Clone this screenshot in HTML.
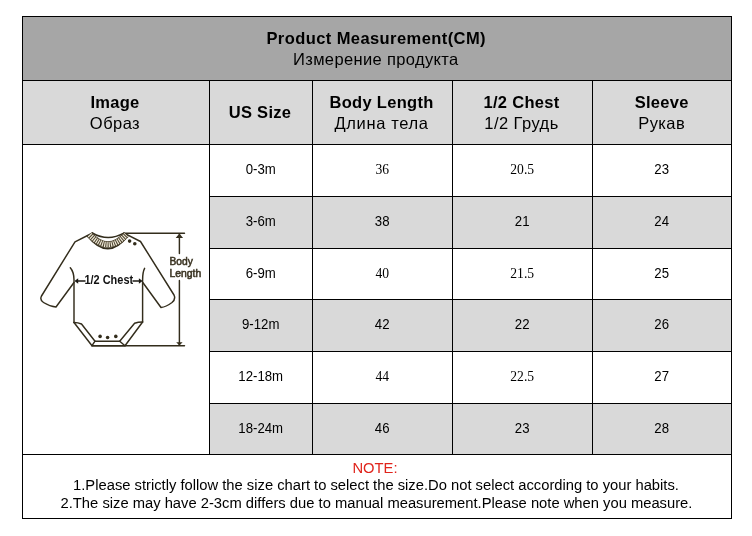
<!DOCTYPE html>
<html><head><meta charset="utf-8"><title>Product Measurement</title>
<style>
html,body{margin:0;padding:0;background:#fff;}
body{width:752px;height:536px;position:relative;overflow:hidden;font-family:"Liberation Sans",Arial,sans-serif;color:#000;}
.c{position:absolute;box-sizing:border-box;display:flex;flex-direction:column;align-items:center;justify-content:center;text-align:center;white-space:nowrap;}
.c>div{position:relative;}
.l{position:absolute;background:#000;}
.h{font-size:16.5px;line-height:20.8px;}
.h b{font-weight:bold;letter-spacing:0.3px;}
.h i{font-style:normal;letter-spacing:0.45px;}
.d{font-size:13.2px;}
.d>div{transform:scaleY(1.07);}
.s{font-family:"Liberation Serif","Times New Roman",serif;font-size:13.6px;}
.n{font-size:14.75px;line-height:17.9px;}
</style></head><body>
<div class="c h" style="left:22px;top:16px;width:710px;height:64px;background:#a6a6a6;"><div style="left:-0.8px;top:0.6px"><b style="letter-spacing:0.42px">Product Measurement(CM)</b></div><div style="left:-1.2px;top:0.6px"><i style="letter-spacing:0.36px">Измерение продукта</i></div></div>
<div class="c h" style="left:22px;top:80px;width:188px;height:64px;background:#d9d9d9;"><div style="left:-1px;top:0.4px"><b>Image</b></div><div style="left:-1px;top:1px"><i style="letter-spacing:0.45px">Образ</i></div></div>
<div class="c h" style="left:209px;top:80px;width:104px;height:64px;background:#d9d9d9;"><div style="left:-1px;top:0.5px"><b>US Size</b></div></div>
<div class="c h" style="left:312px;top:80px;width:141px;height:64px;background:#d9d9d9;"><div style="left:-1px;top:0.4px"><b>Body Length</b></div><div style="left:-1px;top:1px"><i style="letter-spacing:0.62px">Длина тела</i></div></div>
<div class="c h" style="left:452px;top:80px;width:141px;height:64px;background:#d9d9d9;"><div style="left:-1px;top:0.4px"><b>1/2 Chest</b></div><div style="left:-1px;top:1px"><i style="letter-spacing:0.45px">1/2 Грудь</i></div></div>
<div class="c h" style="left:592px;top:80px;width:140px;height:64px;background:#d9d9d9;"><div style="left:-0.3px;top:0.4px"><b>Sleeve</b></div><div style="left:-0.3px;top:1px"><i style="letter-spacing:0.45px">Рукав</i></div></div>
<div class="c d" style="left:209px;top:144px;width:104px;height:52px;background:#fff;"><div style="left:-0.3px;top:-0.7px">0-3m</div></div>
<div class="c s" style="left:312px;top:144px;width:141px;height:52px;background:#fff;"><div style="left:-0.3px;top:-0.3px">36</div></div>
<div class="c s" style="left:452px;top:144px;width:141px;height:52px;background:#fff;"><div style="left:-0.3px;top:-0.3px">20.5</div></div>
<div class="c d" style="left:592px;top:144px;width:140px;height:52px;background:#fff;"><div style="left:-0.3px;top:-0.7px">23</div></div>
<div class="c d" style="left:209px;top:196px;width:104px;height:52px;background:#d9d9d9;"><div style="left:-0.3px;top:-0.7px">3-6m</div></div>
<div class="c d" style="left:312px;top:196px;width:141px;height:52px;background:#d9d9d9;"><div style="left:-0.3px;top:-0.7px">38</div></div>
<div class="c d" style="left:452px;top:196px;width:141px;height:52px;background:#d9d9d9;"><div style="left:-0.3px;top:-0.7px">21</div></div>
<div class="c d" style="left:592px;top:196px;width:140px;height:52px;background:#d9d9d9;"><div style="left:-0.3px;top:-0.7px">24</div></div>
<div class="c d" style="left:209px;top:248px;width:104px;height:51px;background:#fff;"><div style="left:-0.3px;top:-0.19999999999999996px">6-9m</div></div>
<div class="c s" style="left:312px;top:248px;width:141px;height:51px;background:#fff;"><div style="left:-0.3px;top:0.2px">40</div></div>
<div class="c s" style="left:452px;top:248px;width:141px;height:51px;background:#fff;"><div style="left:-0.3px;top:0.2px">21.5</div></div>
<div class="c d" style="left:592px;top:248px;width:140px;height:51px;background:#fff;"><div style="left:-0.3px;top:-0.19999999999999996px">25</div></div>
<div class="c d" style="left:209px;top:299px;width:104px;height:52px;background:#d9d9d9;"><div style="left:-0.3px;top:-0.7px">9-12m</div></div>
<div class="c d" style="left:312px;top:299px;width:141px;height:52px;background:#d9d9d9;"><div style="left:-0.3px;top:-0.7px">42</div></div>
<div class="c d" style="left:452px;top:299px;width:141px;height:52px;background:#d9d9d9;"><div style="left:-0.3px;top:-0.7px">22</div></div>
<div class="c d" style="left:592px;top:299px;width:140px;height:52px;background:#d9d9d9;"><div style="left:-0.3px;top:-0.7px">26</div></div>
<div class="c d" style="left:209px;top:351px;width:104px;height:52px;background:#fff;"><div style="left:-0.3px;top:-0.7px">12-18m</div></div>
<div class="c s" style="left:312px;top:351px;width:141px;height:52px;background:#fff;"><div style="left:-0.3px;top:-0.3px">44</div></div>
<div class="c s" style="left:452px;top:351px;width:141px;height:52px;background:#fff;"><div style="left:-0.3px;top:-0.3px">22.5</div></div>
<div class="c d" style="left:592px;top:351px;width:140px;height:52px;background:#fff;"><div style="left:-0.3px;top:-0.7px">27</div></div>
<div class="c d" style="left:209px;top:403px;width:104px;height:51px;background:#d9d9d9;"><div style="left:-0.3px;top:-0.19999999999999996px">18-24m</div></div>
<div class="c d" style="left:312px;top:403px;width:141px;height:51px;background:#d9d9d9;"><div style="left:-0.3px;top:-0.19999999999999996px">46</div></div>
<div class="c d" style="left:452px;top:403px;width:141px;height:51px;background:#d9d9d9;"><div style="left:-0.3px;top:-0.19999999999999996px">23</div></div>
<div class="c d" style="left:592px;top:403px;width:140px;height:51px;background:#d9d9d9;"><div style="left:-0.3px;top:-0.19999999999999996px">28</div></div>
<div class="c n" style="left:22px;top:454px;width:710px;height:64px;background:#fff;"><div style="color:#e0241c;left:-2px;top:0.4px">NOTE:</div><div style="left:-1px">1.Please strictly follow the size chart to select the size.Do not select according to your habits.</div><div style="left:-0.5px;top:-0.2px">2.The size may have 2-3cm differs due to manual measurement.Please note when you measure.</div></div>
<div class="l" style="left:22px;top:16px;width:710px;height:1px"></div>
<div class="l" style="left:22px;top:80px;width:710px;height:1px"></div>
<div class="l" style="left:22px;top:144px;width:710px;height:1px"></div>
<div class="l" style="left:209px;top:196px;width:523px;height:1px"></div>
<div class="l" style="left:209px;top:248px;width:523px;height:1px"></div>
<div class="l" style="left:209px;top:299px;width:523px;height:1px"></div>
<div class="l" style="left:209px;top:351px;width:523px;height:1px"></div>
<div class="l" style="left:209px;top:403px;width:523px;height:1px"></div>
<div class="l" style="left:22px;top:454px;width:710px;height:1px"></div>
<div class="l" style="left:22px;top:518px;width:710px;height:1px"></div>
<div class="l" style="left:22px;top:16px;width:1px;height:503px"></div>
<div class="l" style="left:731px;top:16px;width:1px;height:503px"></div>
<div class="l" style="left:209px;top:80px;width:1px;height:375px"></div>
<div class="l" style="left:312px;top:80px;width:1px;height:375px"></div>
<div class="l" style="left:452px;top:80px;width:1px;height:375px"></div>
<div class="l" style="left:592px;top:80px;width:1px;height:375px"></div>
<svg style="position:absolute;left:23px;top:200px" width="186" height="170" viewBox="23 200 186 170">
<g fill="none" stroke="#332d1c" stroke-width="1.45" stroke-linecap="round" stroke-linejoin="round">
<!-- left shoulder + sleeve -->
<path d="M92.5 233 L75 241.8 L41.5 296 Q39.5 300 43.5 302.5 Q50 306.5 56 307 L74 282.5"/>
<path d="M70.3 267.8 Q74 272 74 280 L74 322.5"/>
<!-- right shoulder + sleeve -->
<path d="M124 233.2 L140.5 241.5 L174 295 Q176 299 172 302.5 Q166 307 161 307.5 L142.8 282.5"/>
<path d="M144.6 268.3 Q142.6 272 142.6 280 L142.6 322"/>
<!-- legs -->
<path d="M74 322.5 L92 345.7 L125 345.7 L142.6 322"/>
<path d="M74 322.5 Q78 322.5 81.5 324 L95 341.2 L119.7 341.2 L134.6 323.3 Q138 322 142.6 322"/>
<path d="M95 341.2 L92 345.7 M119.7 341.2 L125 345.7"/>
<!-- measure lines -->
<path d="M124 233.2 L184.5 233.2 M92 345.7 L184.5 345.7"/>
<path d="M179.4 234 L179.4 253.5 M179.4 280.5 L179.4 345"/>
<!-- neck -->
<path d="M92.3 233 Q108 242 123.8 233.2"/>
<path d="M87.6 236 Q108 261.4 127.6 236" stroke-width="1.8"/>
</g>
<path d="M89.6 234.8 Q108 254.2 126.2 234.8" fill="none" stroke="#4a412c" stroke-width="6.4"/>
<path d="M89.6 234.8 Q108 254.2 126.2 234.8" fill="none" stroke="#efe9d8" stroke-width="5.2" stroke-dasharray="1.2 1.0"/>
<g fill="#1c1a14" stroke="#1c1a14" stroke-width="1.3">
<path d="M77.5 281 L85.5 281 M132.5 281 L140 281" fill="none"/>
</g>
<g fill="#1c1a14">
<path d="M74.5 281 L78.2 278.3 L78.2 283.7 Z"/>
<path d="M142.6 281 L138.9 278.3 L138.9 283.7 Z"/>
</g>
<g fill="#332d1c">
<path d="M179.4 233.6 L175.7 238 L183.1 238 Z"/>
<path d="M179.4 345.6 L176.2 342.2 L182.6 342.2 Z"/>
<circle cx="100.1" cy="336.4" r="1.8"/><circle cx="107.6" cy="337.5" r="1.8"/><circle cx="115.8" cy="336.4" r="1.8"/>
<circle cx="129.6" cy="241.1" r="1.8"/><circle cx="134.8" cy="243.8" r="1.8"/>
</g>
<text x="84.5" y="283.8" textLength="48.6" lengthAdjust="spacingAndGlyphs" font-family="Liberation Sans, Arial, sans-serif" font-weight="bold" font-size="12" fill="#111">1/2 Chest</text>
<text x="169.4" y="264.8" textLength="23.4" lengthAdjust="spacingAndGlyphs" font-family="Liberation Sans, Arial, sans-serif" font-size="10.9" fill="#3a3322" stroke="#3a3322" stroke-width="0.55">Body</text>
<text x="169.4" y="276.8" textLength="31.8" lengthAdjust="spacingAndGlyphs" font-family="Liberation Sans, Arial, sans-serif" font-size="10.9" fill="#3a3322" stroke="#3a3322" stroke-width="0.55">Length</text>
</svg>
</body></html>
